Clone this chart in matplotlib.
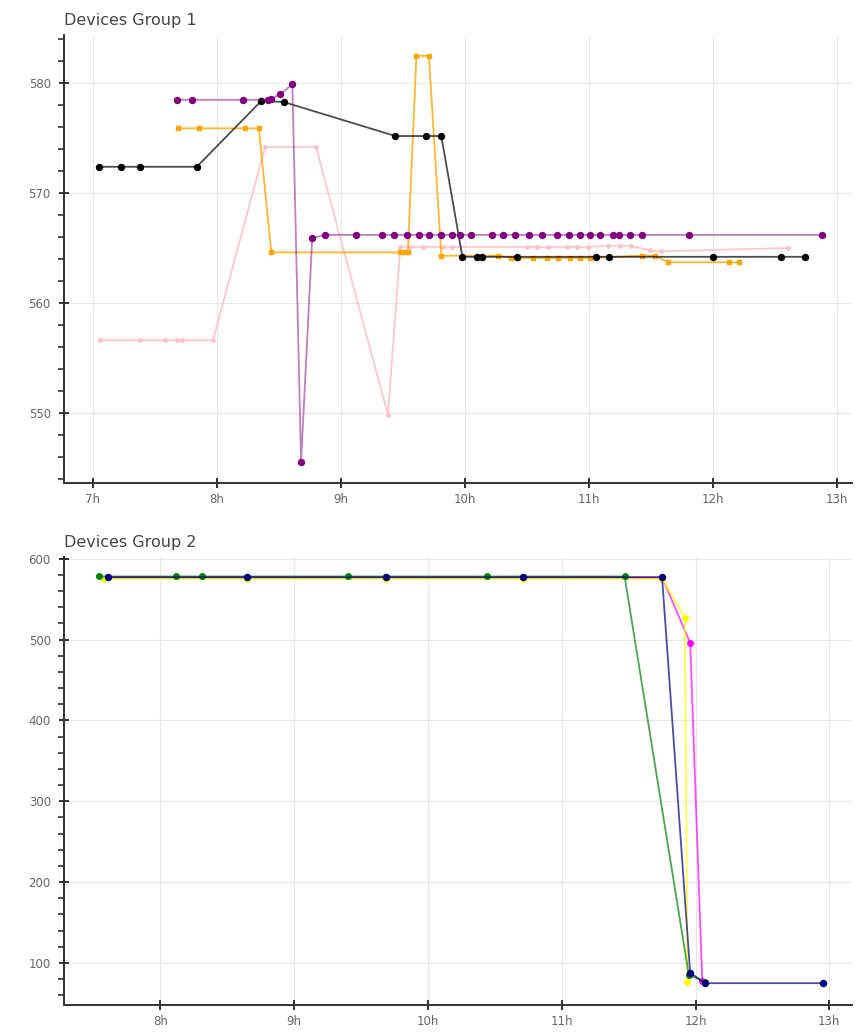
import numpy as np
import matplotlib.pyplot as plt
from matplotlib.colors import to_rgba
from matplotlib.ticker import FuncFormatter, MultipleLocator

# --- Devices Group 1 (heure decimale, valeur) ---
black_t = [7.05, 7.23, 7.38, 7.84, 8.36, 8.54, 9.44, 9.69, 9.81, 9.98, 10.10,
           10.14, 10.42, 11.06, 11.16, 12.00, 12.55, 12.74]
black_v = [572.4, 572.4, 572.4, 572.4, 578.4, 578.3, 575.2, 575.2, 575.2, 564.2,
           564.2, 564.2, 564.2, 564.2, 564.2, 564.2, 564.2, 564.2]

purple_t = [7.68, 7.80, 8.21, 8.41, 8.44, 8.51, 8.61, 8.68, 8.77, 8.87, 9.12,
            9.33, 9.43, 9.53, 9.63, 9.71, 9.81, 9.90, 9.96, 10.05, 10.22, 10.31,
            10.40, 10.52, 10.62, 10.74, 10.84, 10.93, 11.01, 11.09, 11.19, 11.24,
            11.33, 11.43, 11.81, 12.88]
purple_v = [578.5, 578.5, 578.5, 578.5, 578.6, 579.0, 579.9, 545.5, 565.9, 566.2,
            566.2, 566.2, 566.2, 566.2, 566.2, 566.2, 566.2, 566.2, 566.2, 566.2,
            566.2, 566.2, 566.2, 566.2, 566.2, 566.2, 566.2, 566.2, 566.2, 566.2,
            566.2, 566.2, 566.2, 566.2, 566.2, 566.2]

orange_t = [7.69, 7.86, 8.23, 8.34, 8.44, 9.48, 9.51, 9.54, 9.61, 9.71, 9.81,
            10.27, 10.37, 10.43, 10.55, 10.66, 10.75, 10.85, 10.93, 11.01, 11.43,
            11.53, 11.64, 12.13, 12.21]
orange_v = [575.9, 575.9, 575.9, 575.9, 564.6, 564.6, 564.6, 564.6, 582.5, 582.5,
            564.3, 564.3, 564.1, 564.1, 564.1, 564.1, 564.1, 564.1, 564.1, 564.1,
            564.3, 564.3, 563.7, 563.7, 563.7]

pink_t = [7.06, 7.38, 7.58, 7.68, 7.72, 7.97, 8.39, 8.80, 9.38, 9.48, 9.56, 9.66,
          9.82, 9.90, 10.50, 10.58, 10.67, 10.82, 10.90, 10.99, 11.15, 11.25,
          11.34, 11.49, 11.58, 12.60]
pink_v = [556.6, 556.6, 556.6, 556.6, 556.6, 556.6, 574.2, 574.2, 549.8, 565.1,
          565.1, 565.1, 565.1, 565.1, 565.1, 565.1, 565.1, 565.1, 565.1, 565.1,
          565.2, 565.2, 565.2, 564.8, 564.7, 565.0]

# --- Devices Group 2 ---
green_t = [7.54, 8.12, 8.31, 9.40, 10.44, 11.47, 11.95, 12.07]
green_v = [578, 578, 578, 578, 578, 578, 85, 77]

navy_t = [7.61, 8.65, 9.69, 10.71, 11.75, 11.96, 12.07, 12.95]
navy_v = [577, 577, 577, 577, 577, 88, 75, 75]

yellow_t = [7.58, 8.65, 9.69, 10.71, 11.75, 11.92, 11.94]
yellow_v = [575, 575, 575, 575, 575, 527, 76]

magenta_t = [7.61, 8.65, 9.69, 10.71, 11.75, 11.96, 12.05]
magenta_v = [577, 577, 577, 577, 577, 496, 78]


def serie(ax, t, v, col, ms, marker='o', line_alpha=0.6):
    # ligne un peu transparente, marqueurs pleins
    ax.plot(t, v, color=to_rgba(col, line_alpha), lw=1.3, marker=marker, ms=ms,
            mfc=col, mec=col)


def style_axes(ax, title):
    """mise en forme facon bokeh"""
    ax.set_title(title, loc='left', fontsize=11.5, color='#444444', pad=7)
    for s in ['top', 'right']:
        ax.spines[s].set_visible(False)
    for s in ['left', 'bottom']:
        ax.spines[s].set_linewidth(1.4)
        ax.spines[s].set_color('#333333')
    ax.grid(True, color='#e8e8e8', linewidth=0.9)
    ax.set_axisbelow(True)
    ax.tick_params(axis='both', which='major', direction='inout', length=7,
                   width=1.4, color='#333333', labelsize=8.5, labelcolor='#666666')
    ax.tick_params(axis='y', which='major', pad=6)
    ax.tick_params(axis='y', which='minor', direction='out', length=4,
                   width=1.2, color='#333333')
    ax.xaxis.set_major_locator(MultipleLocator(1))
    ax.xaxis.set_major_formatter(FuncFormatter(lambda v, p: '{}h'.format(int(round(v)))))


fig = plt.figure(figsize=(8.56, 10.36), dpi=100)
ax1 = fig.add_axes([0.0748, 0.5338, 0.9206, 0.4324])
ax2 = fig.add_axes([0.0748, 0.0299, 0.9206, 0.4324])

serie(ax1, pink_t, pink_v, 'pink', 2.5, line_alpha=0.9)
serie(ax1, orange_t, orange_v, 'orange', 3.2, marker='s', line_alpha=0.8)
serie(ax1, black_t, black_v, 'black', 4.3, line_alpha=0.7)
serie(ax1, purple_t, purple_v, 'purple', 4.3, line_alpha=0.5)
ax1.set_xlim(6.77, 13.12)
ax1.set_ylim(543.6, 584.4)
ax1.yaxis.set_major_locator(MultipleLocator(10))
ax1.yaxis.set_minor_locator(MultipleLocator(2))
style_axes(ax1, 'Devices Group 1')

serie(ax2, magenta_t, magenta_v, 'magenta', 4, line_alpha=0.7)
serie(ax2, yellow_t, yellow_v, 'yellow', 4, line_alpha=0.7)
serie(ax2, green_t, green_v, 'green', 4, line_alpha=0.7)
serie(ax2, navy_t, navy_v, 'navy', 4.3, line_alpha=0.7)
ax2.set_xlim(7.28, 13.17)
ax2.set_ylim(48, 602)
ax2.yaxis.set_major_locator(MultipleLocator(100))
ax2.yaxis.set_minor_locator(MultipleLocator(20))
style_axes(ax2, 'Devices Group 2')

fig.savefig('out.png', dpi=100)
